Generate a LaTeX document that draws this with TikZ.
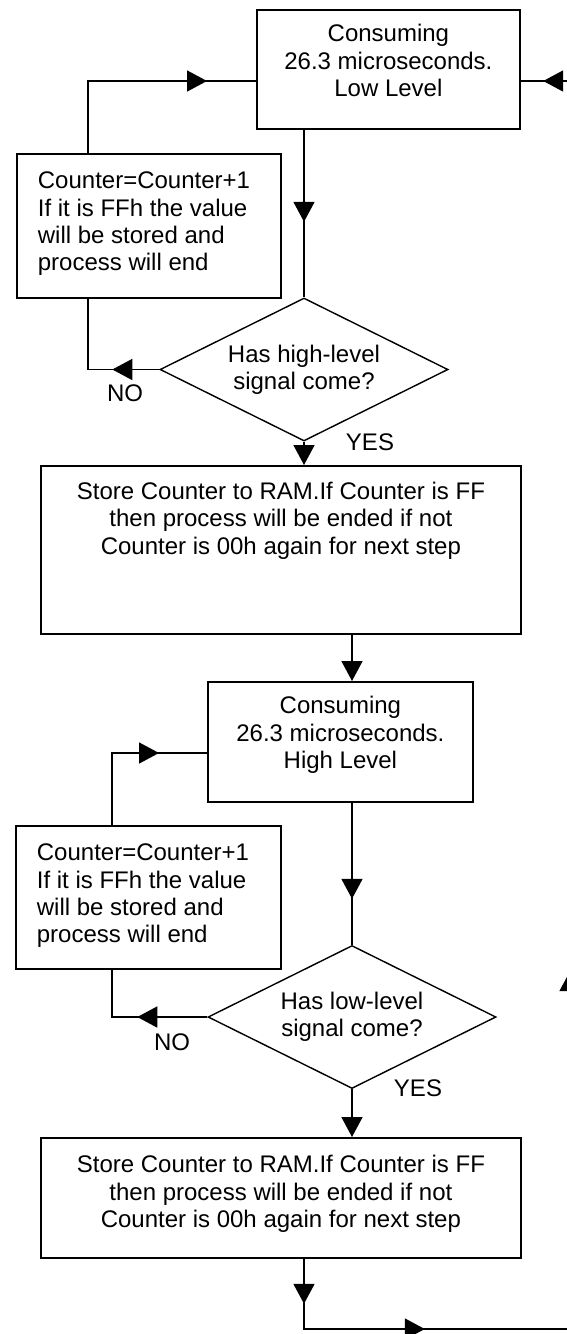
\documentclass[tikz,border=0pt]{standalone}
\usepackage{fontspec}
\setmainfont{Liberation Sans}
\usetikzlibrary{arrows.meta,shapes.geometric,decorations.markings,calc}
\tikzset{Tri/.tip={Triangle[length=20pt,width=21pt]}}
\begin{document}
\begin{tikzpicture}[x=1pt,y=-1pt,
  every node/.style={font=\fontsize{24}{27.3}\selectfont},
  box/.style={draw, line width=1.8pt, rectangle, inner sep=0pt, anchor=north west},
  dia/.style={draw, line width=1.4pt, diamond, shape aspect=2, inner sep=0pt,
              minimum width=288pt, minimum height=143pt, align=center},
  lbl/.style={inner sep=0pt},
  conn/.style={line width=1.6pt},
  midarrow/.style={postaction={decorate, decoration={markings,
      mark=at position #1 with {\arrow{Tri}}}}}
]
\useasboundingbox (0,0) rectangle (567,1334);

% boxes
\node[box, minimum width=263pt, text height=32pt, text depth=87pt] (top) at (256,9)
  {\parbox[t]{263pt}{\centering Consuming\\26.3 microseconds.\\Low Level}};
\node[box, minimum width=264pt, text height=35pt, text depth=109pt] (c1) at (16,153)
  {\parbox[t]{222pt}{\raggedright Counter=Counter+1\\If it is FFh the value\\will be stored and\\process will end}};
\node[dia] (d1) at (304,369.5) {Has high-level\\signal come?};
\node[box, minimum width=480pt, text height=33.5pt, text depth=134.5pt] (s1) at (40,465)
  {\parbox[t]{480pt}{\centering Store Counter to RAM.If Counter is FF\\then process will be ended if not\\Counter is 00h again for next step}};
\node[box, minimum width=265pt, text height=32pt, text depth=88pt] (h) at (207,681)
  {\parbox[t]{265pt}{\centering Consuming\\26.3 microseconds.\\High Level}};
\node[box, minimum width=265pt, text height=35pt, text depth=108pt] (c2) at (15,825)
  {\parbox[t]{223pt}{\raggedright Counter=Counter+1\\If it is FFh the value\\will be stored and\\process will end}};
\node[dia] (d2) at (352,1017) {Has low-level\\signal come?};
\node[box, minimum width=480pt, text height=35pt, text depth=85pt] (s2) at (40,1137)
  {\parbox[t]{480pt}{\centering Store Counter to RAM.If Counter is FF\\then process will be ended if not\\Counter is 00h again for next step}};

% labels
\node[lbl] (no1) at (125,393) {NO};
\node[lbl] (yes1) at (370,442) {YES};
\node[lbl] (no2) at (172,1042) {NO};
\node[lbl] (yes2) at (418,1088) {YES};

% return path corners
\coordinate (rb) at (570,1329);
\coordinate (rt) at (570,81);

% connectors
\draw[conn, midarrow=191pt] ($(c1.north west)+(72,0)$) |- ($(top.north west)+(0,72)$);
\draw[conn, midarrow=92pt] (top.south -| d1.north) -- (d1.north);
\draw[conn, midarrow=47pt] (d1.west) -| ($(c1.south west)+(72,0)$);
\draw[conn, -{Tri}] (d1.south) -- (d1.south |- s1.north);
\draw[conn, -{Tri}] (s1.south -| d2.north) -- (h.north -| d2.north);
\draw[conn, midarrow=119pt] ($(c2.north west)+(97,0)$) |- ($(h.north west)+(0,72)$);
\draw[conn, midarrow=96pt] (h.south -| d2.north) -- (d2.north);
\draw[conn, midarrow=70pt] (d2.west) -| ($(c2.south west)+(97,0)$);
\draw[conn, -{Tri}] (d2.south) -- (d2.south |- s2.north);
\draw[conn, postaction={decorate, decoration={markings,
    mark=at position 45pt with {\arrow{Tri}},
    mark=at position 191pt with {\arrow{Tri}},
    mark=at position 694pt with {\arrow{Tri}},
    mark=at position 1611pt with {\arrow{Tri}}}}]
  ($(s2.south west)+(264,0)$) |- (rb) -- (rt) -- ($(top.north east)+(0,72)$);
\end{tikzpicture}
\end{document}
